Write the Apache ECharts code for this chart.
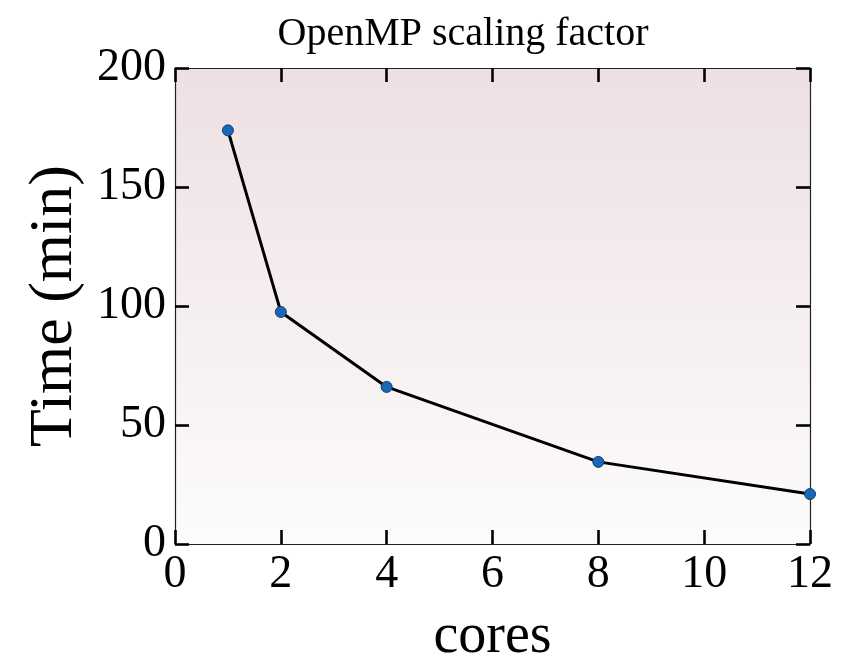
<!DOCTYPE html>
<html>
<head>
<meta charset="utf-8">
<script src="https://cdn.jsdelivr.net/npm/echarts@6/dist/echarts.min.js"></script>
<style>
  html, body { margin: 0; padding: 0; background: #ffffff; }
  #chart { width: 858px; height: 656px; }
</style>
</head>
<body>
<div id="chart"></div>
<script>
// Wall-clock time of the OpenMP run versus number of cores
const cores = [1, 2, 4, 8, 12];
const timeMin = [173.8, 97.5, 66.0, 34.5, 21.0];
const xTicks = [0, 2, 4, 6, 8, 10, 12];
const yTicks = [0, 50, 100, 150, 200];

const serif = '"Liberation Serif", "DejaVu Serif", serif';
const points = cores.map((c, i) => [c, timeMin[i]]);

const tickStyle = { show: true, inside: true, length: 14, lineStyle: { color: '#000', width: 2.6 } };
const lineStyle = { show: true, onZero: false, lineStyle: { color: '#222', width: 1.2 } };

const chart = echarts.init(document.getElementById('chart'), null, { renderer: 'canvas' });
chart.setOption({
  animation: false,
  backgroundColor: '#ffffff',
  title: {
    text: 'OpenMP scaling factor',
    left: 458,
    top: 9,
    textAlign: 'center',
    textStyle: { fontFamily: serif, fontWeight: 'normal', fontSize: 40, color: '#000' }
  },
  grid: {
    left: 175, right: 48, top: 68, bottom: 112,
    outerBoundsMode: 'none',
    containLabel: false,
    show: true,
    borderWidth: 0,
    backgroundColor: new echarts.graphic.LinearGradient(0, 0, 0, 1, [
      { offset: 0, color: '#ede0e2' },
      { offset: 1, color: '#fdfcfb' }
    ])
  },
  xAxis: [{
    type: 'value', min: xTicks[0], max: xTicks[xTicks.length - 1], interval: 2,
    position: 'bottom',
    name: 'cores', nameLocation: 'middle', nameGap: 65,
    nameTextStyle: { fontFamily: serif, fontSize: 56, color: '#000' },
    axisLine: lineStyle, axisTick: tickStyle, splitLine: { show: false },
    axisLabel: { fontFamily: serif, fontSize: 46, color: '#000', margin: 8 }
  }, {
    type: 'value', min: xTicks[0], max: xTicks[xTicks.length - 1], interval: 2,
    position: 'top',
    axisLine: lineStyle, axisTick: tickStyle, splitLine: { show: false },
    axisLabel: { show: false }
  }],
  yAxis: [{
    type: 'value', min: yTicks[0], max: yTicks[yTicks.length - 1], interval: 50,
    position: 'left',
    name: 'Time (min)', nameLocation: 'middle', nameGap: 84,
    nameTextStyle: { fontFamily: serif, fontSize: 62, color: '#000' },
    axisLine: lineStyle, axisTick: tickStyle, splitLine: { show: false },
    axisLabel: { fontFamily: serif, fontSize: 46, color: '#000', margin: 9 }
  }, {
    type: 'value', min: yTicks[0], max: yTicks[yTicks.length - 1], interval: 50,
    position: 'right',
    axisLine: lineStyle, axisTick: tickStyle, splitLine: { show: false },
    axisLabel: { show: false }
  }],
  series: [{
    type: 'line',
    data: points,
    xAxisIndex: 0, yAxisIndex: 0,
    symbol: 'circle',
    symbolSize: 11,
    lineStyle: { color: '#000', width: 3 },
    itemStyle: { color: '#1a66b8', borderColor: '#123f6e', borderWidth: 1 },
    z: 3
  }]
});
</script>
</body>
</html>
